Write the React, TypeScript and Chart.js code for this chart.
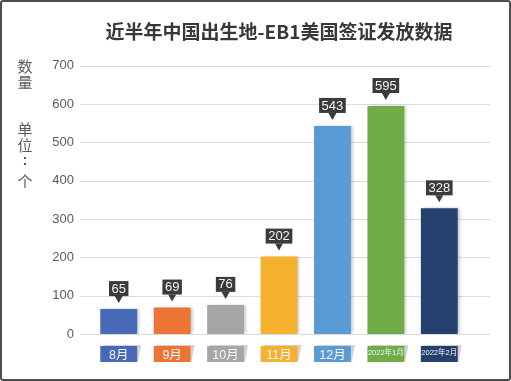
import React, { useEffect, useRef } from "react";
import { Chart, registerables } from "chart.js";

Chart.register(...registerables);

const titleText = "近半年中国出生地-EB1美国签证发放数据";
const categories = ["8月", "9月", "10月", "11月", "12月", "2022年1月", "2022年2月"];
const values = [65, 69, 76, 202, 543, 595, 328];
const barColors = ["#4669B8", "#EC7535", "#A6A6A6", "#F5B12E", "#5B9BD5", "#70AD47", "#24406F"];
const yTitleTop = ["数", "量"];
const yTitleBottom = ["单", "位", ":", "个"];
const yMin = 0;
const yMax = 700;
const yStep = 100;

const CJK = "'Noto Sans CJK SC', 'Noto Sans', sans-serif";
const LATIN = "'Liberation Sans', Arial, 'Noto Sans CJK SC', sans-serif";

const decorPlugin = {
  id: "decor",
  beforeDraw(chart: any) {
    const { ctx, chartArea, scales } = chart;
    const y = scales.y;
    const x = scales.x;
    ctx.save();
    // grid lines
    ctx.strokeStyle = "#dcdcdc";
    ctx.lineWidth = 1;
    y.ticks.forEach((t: any) => {
      const py = Math.round(y.getPixelForValue(t.value)) + 0.5;
      ctx.beginPath();
      ctx.moveTo(chartArea.left - 12, py);
      ctx.lineTo(chartArea.right + 24, py);
      ctx.stroke();
    });
    // category label boxes
    const meta = chart.getDatasetMeta(0);
    categories.forEach((c, i) => {
      const bar: any = meta.data[i];
      const px = x.getPixelForValue(i);
      const w = bar ? bar.width : 37;
      const left = px - w / 2;
      const top = chartArea.bottom + 12;
      const h = 16;
      ctx.fillStyle = "rgba(0,0,0,0.18)";
      ctx.beginPath();
      ctx.moveTo(left + 3, top - 1);
      ctx.lineTo(left + w + 4, top - 1);
      ctx.lineTo(left + w + 1, top + h - 1);
      ctx.lineTo(left + 3, top + h - 1);
      ctx.closePath();
      ctx.fill();
      ctx.fillStyle = barColors[i];
      ctx.fillRect(left, top, w, h);
    });
    // vertical axis title
    ctx.fillStyle = "#5a5a5a";
    ctx.font = `15px ${CJK}`;
    ctx.textAlign = "center";
    ctx.textBaseline = "middle";
    const cx = 25;
    const topYs = [66, 82];
    yTitleTop.forEach((ch, i) => ctx.fillText(ch, cx, topYs[i]));
    const botYs = [129, 145, 161, 181];
    yTitleBottom.forEach((ch, i) => {
      if (ch === ":") {
        ctx.font = `bold 15px ${LATIN}`;
      } else {
        ctx.font = `15px ${CJK}`;
      }
      ctx.fillText(ch, cx, botYs[i]);
    });
    ctx.restore();
  },
  beforeDatasetsDraw(chart: any) {
    const ctx = chart.ctx;
    ctx.save();
    ctx.shadowColor = "rgba(0,0,0,0.25)";
    ctx.shadowBlur = 3;
    ctx.shadowOffsetX = 2;
    ctx.shadowOffsetY = 0;
  },
  afterDatasetsDraw(chart: any) {
    const ctx = chart.ctx;
    ctx.restore();
    const meta = chart.getDatasetMeta(0);
    const data = chart.data.datasets[0].data;
    ctx.save();
    meta.data.forEach((bar: any, i: number) => {
      const text = String(data[i]);
      ctx.font = `13px ${LATIN}`;
      const w = ctx.measureText(text).width + 5;
      const h = 15;
      const x = bar.x;
      const bottom = bar.y - 13;
      ctx.fillStyle = "#3b3b3b";
      ctx.fillRect(x - w / 2, bottom - h, w, h);
      ctx.beginPath();
      ctx.moveTo(x - 4, bottom);
      ctx.lineTo(x + 4, bottom);
      ctx.lineTo(x, bottom + 7);
      ctx.closePath();
      ctx.fill();
      ctx.fillStyle = "#f4f4f4";
      ctx.textAlign = "center";
      ctx.textBaseline = "middle";
      ctx.fillText(text, x, bottom - h / 2 + 0.5);
    });
    ctx.restore();
  },
};

export default function App() {
  const canvasRef = useRef<HTMLCanvasElement | null>(null);

  useEffect(() => {
    const canvas = canvasRef.current;
    if (!canvas) return;
    const chart = new Chart(canvas, {
      type: "bar",
      data: {
        labels: categories,
        datasets: [
          {
            data: values,
            backgroundColor: barColors,
            borderWidth: 0,
            categoryPercentage: 1,
            barPercentage: 0.69,
          },
        ],
      },
      options: {
        responsive: false,
        animation: false,
        devicePixelRatio: 1,
        layout: { padding: { left: 0, right: 45, top: 0, bottom: 0 } },
        plugins: {
          legend: { display: false },
          tooltip: { enabled: false },
          title: {
            display: true,
            text: titleText,
            fullSize: false,
            color: "#383838",
            font: { size: 19, weight: "bold", family: CJK },
            padding: { top: 20, bottom: 23 },
          },
        },
        scales: {
          x: {
            grid: { display: false, drawTicks: false },
            border: { display: false },
            ticks: {
              color: "#f6f6f6",
              padding: 14,
              maxRotation: 0,
              autoSkip: false,
              font: (c: any) => {
                const label = String(c.tick && c.tick.label ? c.tick.label : "");
                return { size: label.length > 4 ? 7.5 : 12.5, family: LATIN };
              },
            },
            afterFit: (s: any) => {
              s.height = 47;
            },
          },
          y: {
            min: yMin,
            max: yMax,
            grid: { display: false, drawTicks: false },
            border: { display: false },
            ticks: {
              stepSize: yStep,
              padding: 18,
              color: "#5a5a5a",
              font: { size: 13, family: LATIN },
            },
            afterFit: (s: any) => {
              s.width = 92;
            },
          },
        },
      },
      plugins: [decorPlugin],
    });
    return () => chart.destroy();
  }, []);

  return (
    <div style={{ position: "absolute", left: 0, top: 0, width: 511, height: 381, background: "#fff" }}>
      <canvas ref={canvasRef} width={511} height={381} style={{ position: "absolute", left: 0, top: 0 }} />
      <div
        style={{
          position: "absolute",
          left: 0,
          top: 0,
          width: 511,
          height: 381,
          boxSizing: "border-box",
          border: "2px solid #4d4d4d",
          borderRadius: 3,
          pointerEvents: "none",
        }}
      />
    </div>
  );
}
